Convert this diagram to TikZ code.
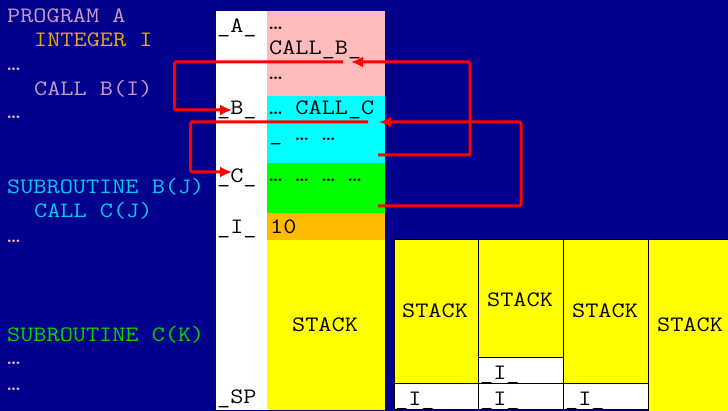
\documentclass[tikz,border=0pt]{standalone}
\usepackage{fontspec}
\usepackage{graphicx}
\usetikzlibrary{arrows.meta}
\definecolor{bg}{RGB}{0,0,140}
\definecolor{mainc}{RGB}{204,153,204}
\definecolor{intc}{RGB}{230,168,20}
\definecolor{dotc}{RGB}{255,180,210}
\definecolor{subbc}{RGB}{0,204,240}
\definecolor{subcc}{RGB}{0,215,0}
\definecolor{pinkc}{RGB}{255,187,187}
\definecolor{cyanc}{RGB}{0,255,255}
\definecolor{greenc}{RGB}{0,255,0}
\definecolor{orangec}{RGB}{255,187,0}
\definecolor{yellowc}{RGB}{255,255,0}
% typewriter text widened to a 13.4pt character pitch
\newcommand{\cw}[1]{\scalebox{1.16}[1]{#1}}
\tikzset{
  code/.style={font=\ttfamily\fontsize{22}{22}\selectfont, inner sep=0pt, anchor=base west},
  mem/.style={code, text=black},
  cell/.style={draw=black, line width=1pt},
  flow/.style={draw=red, line width=3pt, rounded corners=1.5pt,
               -{Latex[length=12pt,width=11pt]}}
}
\begin{document}
\begin{tikzpicture}[x=1pt,y=-1pt]
\useasboundingbox (0,0) rectangle (728,411);
\fill[bg] (0,0) rectangle (728,411);

% program text
\node[code, text=mainc] (pa) at (7,23) {\cw{PROGRAM A}};
\node[code, text=intc] (ii) at (34,47) {\cw{INTEGER I}};
\node[code, text=dotc] (d1) at (7,71) {\cw{…}};
\node[code, text=mainc] (cb) at (34,96) {\cw{CALL B(I)}};
\node[code, text=dotc] (d2) at (7,119) {\cw{…}};
\node[code, text=subbc] (sb) at (7,194) {\cw{SUBROUTINE B(J)}};
\node[code, text=subbc] (cc) at (34,218) {\cw{CALL C(J)}};
\node[code, text=dotc] (d3) at (7,243) {\cw{…}};
\node[code, text=subcc] (sc) at (7,342) {\cw{SUBROUTINE C(K)}};
\node[code, text=dotc] (d4) at (7,364) {\cw{…}};
\node[code, text=dotc] (d5) at (7,390) {\cw{…}};

% memory column
\fill[white] (216,11) rectangle (267,410);
\fill[pinkc] (267,11) rectangle (385,96);
\fill[cyanc] (267,96) rectangle (385,163);
\fill[greenc] (267,163) rectangle (385,213);
\fill[orangec] (267,213) rectangle (385,240);
\fill[yellowc] (267,240) rectangle (385,410);

\node[mem] (la) at (217,33) {\cw{\_A\_}};
\node[mem] (lb) at (217,115) {\cw{\_B\_}};
\node[mem] (lc) at (217,183) {\cw{\_C\_}};
\node[mem] (li) at (217,234) {\cw{\_I\_}};
\node[mem] (lsp) at (217,403) {\cw{\_SP}};

\node[mem] (pa1) at (269,30) {\cw{…}};
\node[mem] (pa2) at (269,55) {\cw{CALL\_B\_}};
\node[mem] (pa3) at (269,80) {\cw{…}};
\node[mem] (cy1) at (269,115) {\cw{… CALL\_C}};
\node[mem] (cy2) at (269,141) {\cw{\_ … …}};
\node[mem] (gr1) at (269,182) {\cw{… … … …}};
\node[mem] (or1) at (270,234) {\cw{10}};
\node[mem] (st0) at (292,332) {\cw{STACK}};

% stack snapshots
\filldraw[cell, fill=yellowc] (394,240) rectangle (478,383);
\filldraw[cell, fill=white] (394,383) rectangle (478,409);
\filldraw[cell, fill=yellowc] (478,240) rectangle (563,358);
\filldraw[cell, fill=white] (478,358) rectangle (563,383);
\filldraw[cell, fill=white] (478,383) rectangle (563,409);
\filldraw[cell, fill=yellowc] (563,240) rectangle (648,383);
\filldraw[cell, fill=white] (563,383) rectangle (648,409);
\filldraw[cell, fill=yellowc] (648,240) rectangle (730,412);

\node[mem] (st1) at (402,318) {\cw{STACK}};
\node[mem] (st2) at (487,307) {\cw{STACK}};
\node[mem] (st3) at (572,318) {\cw{STACK}};
\node[mem] (st4) at (657,332) {\cw{STACK}};
\node[mem] (i1) at (395,405) {\cw{\_I\_}};
\node[mem] (i2) at (480,380) {\cw{\_I\_}};
\node[mem] (i3) at (480,405) {\cw{\_I\_}};
\node[mem] (i4) at (565,405) {\cw{\_I\_}};

% call and return flow
\coordinate (callB) at (343,62);
\coordinate (entB) at (232,110);
\coordinate (retB) at (378,155);
\coordinate (backA) at (351,62);
\coordinate (callC) at (368,122);
\coordinate (entC) at (232,172);
\coordinate (retC) at (378,206);
\coordinate (backB) at (379,122);

\draw[flow] (callB) -- (174.5,62) |- (entB);
\draw[flow] (retB) -| (470,62) -- (backA);
\draw[flow] (callC) -- (190.5,122) |- (entC);
\draw[flow] (retC) -| (521,122) -- (backB);
\end{tikzpicture}
\end{document}
